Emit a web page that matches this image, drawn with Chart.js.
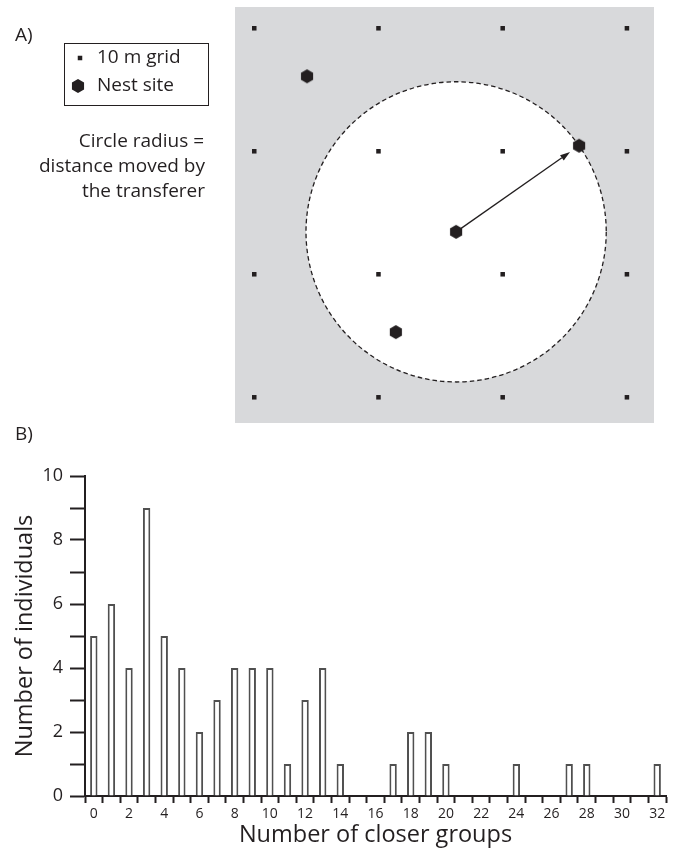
<!DOCTYPE html>
<html>
<head>
<meta charset="utf-8">
<script src="https://cdn.jsdelivr.net/npm/chart.js@4.4.1/dist/chart.umd.min.js"></script>
<style>
  html, body { margin: 0; padding: 0; background: #fff; }
  #wrap { position: relative; width: 675px; height: 851px; }
  #mapBox { position: absolute; left: 0; top: 0; width: 675px; height: 430px; }
  #histBox { position: absolute; left: 0; top: 420px; width: 675px; height: 431px; }
</style>
</head>
<body>
<div id="wrap">
  <div id="mapBox"><canvas id="mapChart"></canvas></div>
  <div id="histBox"><canvas id="histChart"></canvas></div>
</div>
<script>
// Panel A: positions in metres, y counted down from the top row of the grid
const gridX = [0, 10, 20, 30];
const gridY = [0, 10, 20, 30];
const nestX = [4.25, 16.25, 26.15, 11.4];
const nestY = [3.9, 16.55, 9.55, 24.7];
const moverFrom = 1; // nest in the centre of the circle
const moverTo = 2;   // nest reached by the transferer

// Panel B: histogram
const closerGroups = [0, 1, 2, 3, 4, 5, 6, 7, 8, 9, 10, 11, 12, 13, 14, 15, 16,
  17, 18, 19, 20, 21, 22, 23, 24, 25, 26, 27, 28, 29, 30, 31, 32];
const individuals = [5, 6, 4, 9, 5, 4, 2, 3, 4, 4, 4, 1, 3, 4, 1, 0, 0,
  1, 2, 2, 1, 0, 0, 0, 1, 0, 0, 1, 1, 0, 0, 0, 1];
const xTickLabels = [0, 2, 4, 6, 8, 10, 12, 14, 16, 18, 20, 22, 24, 26, 28, 30, 32];
const yTickLabels = [0, 2, 4, 6, 8, 10];

const ink = '#231f20';
Chart.defaults.font.family = '"Open Sans", sans-serif';
Chart.defaults.color = ink;

// hexagon marker for the nest sites
function hexagon(r) {
  const c = document.createElement('canvas');
  const w = Math.ceil(r * 2) + 2;
  c.width = w;
  c.height = w;
  const g = c.getContext('2d');
  g.fillStyle = ink;
  g.beginPath();
  for (let i = 0; i < 6; i++) {
    const a = Math.PI / 3 * i - Math.PI / 2;
    const px = w / 2 + r * Math.cos(a);
    const py = w / 2 + r * Math.sin(a);
    if (i) g.lineTo(px, py); else g.moveTo(px, py);
  }
  g.closePath();
  g.fill();
  return c;
}
const hexImg = hexagon(7);

const gridPoints = [];
gridY.forEach(gy => gridX.forEach(gx => gridPoints.push({ x: gx, y: gy })));
const nestPoints = nestX.map((nx, i) => ({ x: nx, y: nestY[i] }));

const gridStyle = { pointStyle: 'rect', radius: 3.2, borderWidth: 0, rotation: 0 };
const nestStyle = { pointStyle: hexImg, radius: 7, borderWidth: 0, rotation: 0 };

const mapDecor = {
  id: 'mapDecor',
  beforeDatasetsDraw(chart) {
    const { ctx, chartArea: a, scales: { x, y } } = chart;
    ctx.save();
    ctx.fillStyle = '#d8d9db';
    ctx.fillRect(a.left, a.top, a.width, a.height);

    const cx = x.getPixelForValue(nestX[moverFrom]);
    const cy = y.getPixelForValue(nestY[moverFrom]);
    const tx = x.getPixelForValue(nestX[moverTo]);
    const ty = y.getPixelForValue(nestY[moverTo]);
    const r = Math.hypot(tx - cx, ty - cy);

    // circle
    ctx.beginPath();
    ctx.arc(cx, cy, r, 0, Math.PI * 2);
    ctx.fillStyle = '#fff';
    ctx.fill();
    ctx.setLineDash([4.5, 3]);
    ctx.lineWidth = 1.3;
    ctx.strokeStyle = ink;
    ctx.stroke();
    ctx.setLineDash([]);

    // arrow
    const ang = Math.atan2(ty - cy, tx - cx);
    const cos = Math.cos(ang), sin = Math.sin(ang);
    const ex = tx - 11 * cos, ey = ty - 11 * sin;
    const hl = 10, hw = 3.2;
    ctx.beginPath();
    ctx.moveTo(cx, cy);
    ctx.lineTo(ex - hl * cos, ey - hl * sin);
    ctx.lineWidth = 1.3;
    ctx.stroke();
    ctx.beginPath();
    ctx.moveTo(ex, ey);
    ctx.lineTo(ex - hl * cos - hw * sin, ey - hl * sin + hw * cos);
    ctx.lineTo(ex - hl * cos + hw * sin, ey - hl * sin - hw * cos);
    ctx.closePath();
    ctx.fillStyle = ink;
    ctx.fill();
    ctx.restore();
  },
  afterDraw(chart) {
    const ctx = chart.ctx;
    ctx.save();
    ctx.fillStyle = ink;
    ctx.strokeStyle = ink;
    ctx.font = '19px "Open Sans"';
    ctx.textBaseline = 'middle';
    ctx.textAlign = 'left';
    ctx.fillText('A)', 15, 36);

    // legend box
    ctx.lineWidth = 1;
    ctx.strokeRect(64.5, 43.5, 144, 62);
    Chart.helpers.drawPoint(ctx, gridStyle, 80, 58);
    Chart.helpers.drawPoint(ctx, nestStyle, 78, 86);
    ctx.fillText('10 m grid', 97, 58);
    ctx.fillText('Nest site', 97, 86);

    ctx.textAlign = 'right';
    ctx.fillText('Circle radius =', 204, 142);
    ctx.fillText('distance moved by', 205, 167);
    ctx.fillText('the transferer', 205, 192);
    ctx.restore();
  }
};

new Chart(document.getElementById('mapChart'), {
  type: 'scatter',
  data: {
    datasets: [
      {
        label: '10 m grid',
        data: gridPoints,
        pointStyle: 'rect',
        pointRadius: 3.2,
        backgroundColor: ink,
        borderWidth: 0
      },
      {
        label: 'Nest site',
        data: nestPoints,
        pointStyle: hexImg,
        pointRadius: 7,
        backgroundColor: ink,
        borderWidth: 0
      }
    ]
  },
  options: {
    animation: false,
    responsive: true,
    maintainAspectRatio: false,
    layout: { padding: { left: 235, right: 21, top: 5, bottom: 5 } },
    plugins: { legend: { display: false }, tooltip: { enabled: false } },
    scales: {
      x: { type: 'linear', display: false, min: -1.55, max: 32.18 },
      y: { type: 'linear', display: false, min: -1.73, max: 32.09, reverse: true }
    }
  },
  plugins: [mapDecor]
});

const histLabel = {
  id: 'histLabel',
  afterDraw(chart) {
    const ctx = chart.ctx;
    ctx.save();
    ctx.fillStyle = ink;
    ctx.font = '19px "Open Sans"';
    ctx.textBaseline = 'middle';
    ctx.fillText('B)', 15, 15);
    ctx.restore();
  }
};

new Chart(document.getElementById('histChart'), {
  type: 'bar',
  data: {
    labels: closerGroups,
    datasets: [{
      data: individuals,
      backgroundColor: '#fff',
      borderColor: '#505050',
      borderWidth: 2,
      barPercentage: 0.42,
      categoryPercentage: 1
    }]
  },
  options: {
    animation: false,
    responsive: true,
    maintainAspectRatio: false,
    layout: { padding: { left: 0, right: 9, top: 56, bottom: 0 } },
    plugins: { legend: { display: false }, tooltip: { enabled: false } },
    scales: {
      x: {
        offset: true,
        grid: { offset: true, drawOnChartArea: false, tickLength: 7, tickWidth: 2, tickColor: ink },
        border: { color: ink, width: 2 },
        ticks: {
          autoSkip: false,
          maxRotation: 0,
          padding: 3,
          font: { size: 14 },
          callback: (v, i) => xTickLabels.includes(closerGroups[i]) ? String(closerGroups[i]) : ''
        },
        title: {
          display: true,
          text: 'Number of closer groups',
          font: { size: 23.5 },
          padding: { top: 0, bottom: 2 }
        },
        afterFit: s => { s.height = 55; }
      },
      y: {
        min: 0,
        max: 10,
        grid: { drawOnChartArea: false, tickLength: 15, tickWidth: 2, tickColor: ink },
        border: { color: ink, width: 2 },
        ticks: {
          stepSize: 1,
          padding: 7,
          font: { size: 18 },
          callback: v => yTickLabels.includes(v) ? String(v) : ''
        },
        title: {
          display: true,
          text: 'Number of individuals',
          font: { size: 23.5 },
          padding: { top: 11, bottom: 0 }
        },
        afterFit: s => { s.width = 85; }
      }
    }
  },
  plugins: [histLabel]
});
</script>
</body>
</html>
